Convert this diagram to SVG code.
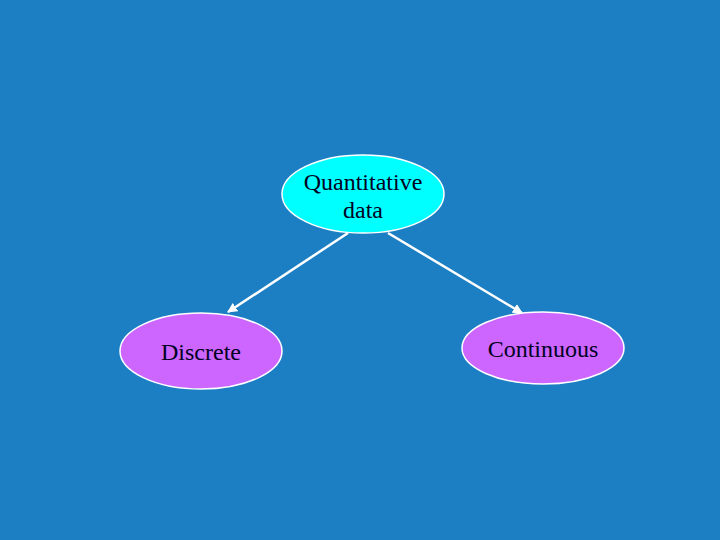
<svg xmlns="http://www.w3.org/2000/svg" width="720" height="540" viewBox="0 0 720 540">
<style>
.node{stroke:#ffffff;stroke-width:1.5}
.lbl{font-family:"Liberation Serif","Times New Roman",serif;font-size:24px;fill:#000022;text-anchor:middle}
.edge{stroke:#ffffff;stroke-width:2.5;fill:none;marker-end:url(#ah)}
</style>
<defs>
<marker id="ah" viewBox="0 0 10 10" refX="9" refY="5" markerWidth="4" markerHeight="4" orient="auto" markerUnits="strokeWidth">
<path d="M0,0 L10,5 L0,10 z" fill="#ffffff"/>
</marker>
</defs>
<rect width="720" height="540" fill="#1c7fc4"/>
<g id="connectors">
<line class="edge" x1="348" y1="233" x2="228" y2="312"/>
<line class="edge" x1="388" y1="233" x2="522" y2="313"/>
</g>
<g id="quantitative">
<ellipse class="node" cx="363" cy="194" rx="81" ry="39" fill="#00ffff"/>
<text class="lbl" x="363" y="190">Quantitative</text>
<text class="lbl" x="363" y="218">data</text>
</g>
<g id="discrete">
<ellipse class="node" cx="201" cy="351" rx="81" ry="38" fill="#cc66ff"/>
<text class="lbl" x="201" y="360">Discrete</text>
</g>
<g id="continuous">
<ellipse class="node" cx="543" cy="348" rx="81" ry="36" fill="#cc66ff"/>
<text class="lbl" x="543" y="357">Continuous</text>
</g>
</svg>
